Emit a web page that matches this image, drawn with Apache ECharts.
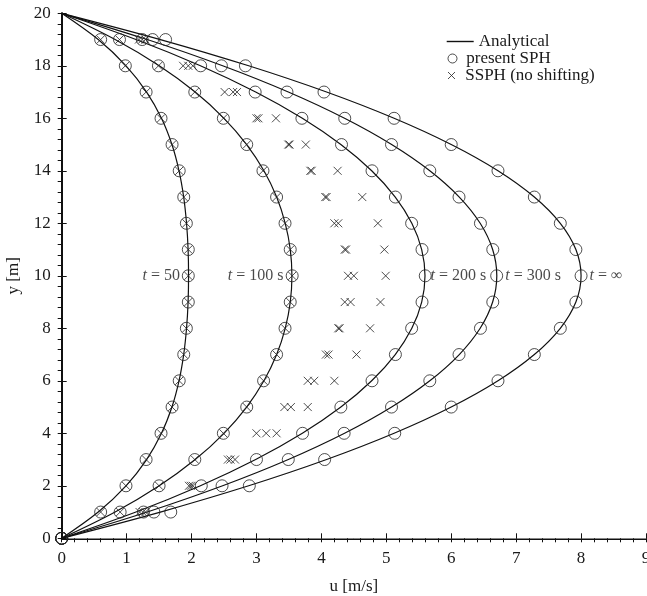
<!DOCTYPE html>
<html><head><meta charset="utf-8">
<script src="https://cdn.jsdelivr.net/npm/echarts@6/dist/echarts.min.js"></script>
<style>html,body{margin:0;padding:0;background:#fff}#c{width:647px;height:596px}</style>
</head><body><div id="c"></div>
<script>
// ---- data ----
const xTickValues = [0,1,2,3,4,5,6,7,8,9];
const yTickValues = [0,2,4,6,8,10,12,14,16,18,20];
const lineY = [0,1,2,3,4,5,6,7,8,9,10,11,12,13,14,15,16,17,18,19,20];
const analytic50  = [0,0.563,0.991,1.308,1.537,1.698,1.807,1.879,1.923,1.947,1.954,1.947,1.923,1.879,1.807,1.698,1.537,1.308,0.991,0.563,0];
const analytic100 = [0,0.823,1.502,2.056,2.500,2.849,3.115,3.311,3.443,3.521,3.546,3.521,3.443,3.311,3.115,2.849,2.500,2.056,1.502,0.823,0];
const analytic200 = [0,1.144,2.137,2.988,3.707,4.300,4.775,5.138,5.393,5.545,5.596,5.545,5.393,5.138,4.775,4.300,3.707,2.988,2.137,1.144,0];
const analytic300 = [0,1.317,2.479,3.491,4.357,5.082,5.670,6.124,6.446,6.638,6.702,6.638,6.446,6.124,5.670,5.082,4.357,3.491,2.479,1.317,0];
const analyticInf = [0,1.52,2.88,4.08,5.12,6.00,6.72,7.28,7.68,7.92,8.00,7.92,7.68,7.28,6.72,6.00,5.12,4.08,2.88,1.52,0];

const sphY = [0,1,2,3,4,5,6,7,8,9,10,11,12,13,14,15,16,17,18,19];
const sph50  = [0,0.60,0.99,1.30,1.53,1.70,1.81,1.88,1.92,1.95,1.95,1.95,1.92,1.88,1.81,1.70,1.53,1.30,0.98,0.60];
const sph100 = [0,0.90,1.50,2.05,2.49,2.85,3.11,3.31,3.44,3.52,3.55,3.52,3.44,3.31,3.10,2.85,2.49,2.05,1.49,0.89];
const sph200 = [0,1.26,2.15,3.00,3.71,4.30,4.78,5.14,5.39,5.55,5.60,5.55,5.39,5.14,4.78,4.31,3.70,2.98,2.14,1.24];
const sph300 = [0,1.42,2.47,3.49,4.35,5.08,5.67,6.12,6.45,6.64,6.70,6.64,6.45,6.12,5.67,5.08,4.36,3.47,2.46,1.40];
const sphInf = [0,1.68,2.89,4.05,5.13,6.00,6.72,7.28,7.68,7.92,8.00,7.92,7.68,7.28,6.72,6.00,5.12,4.04,2.83,1.60];

const ssphY = [1,2,3,4,5,6,7,8,9,10,11,12,13,14,15,16,17,18,19];
const ssph50  = [0.60,0.99,1.30,1.53,1.70,1.81,1.88,1.92,1.95,1.95,1.95,1.92,1.88,1.81,1.70,1.53,1.30,0.98,0.60];
const ssph100 = [0.90,1.50,2.05,2.49,2.85,3.11,3.31,3.44,3.52,3.55,3.52,3.44,3.31,3.10,2.85,2.49,2.05,1.49,0.89];
const ssphA = [1.20,1.96,2.56,3.00,3.43,3.79,4.07,4.26,4.36,4.41,4.36,4.20,4.06,3.83,3.49,3.00,2.51,1.87,1.19];
const ssphB = [1.25,1.99,2.60,3.15,3.53,3.89,4.11,4.28,4.45,4.50,4.38,4.26,4.08,3.85,3.51,3.03,2.64,1.95,1.24];
const ssphC = [1.29,2.02,2.67,3.31,3.79,4.20,4.54,4.75,4.91,4.99,4.97,4.87,4.63,4.25,3.76,3.30,2.70,2.02,1.29];

const curveLabels = ['t = 50','t = 100 s','t = 200 s','t = 300 s','t = \u221e'];
const legendNames = ['Analytical','present SPH','SSPH (no shifting)'];

// ---- build ----
const FONT = 'Liberation Serif';
const TXT = '#1a1a1a';
const pairs = (us, ys) => us.map((u, i) => [u, ys[i]]);
const crossPath = 'path://M0,0L10,10M10,0L0,10';

const analytic = [analytic50, analytic100, analytic200, analytic300, analyticInf];
const sph = [sph50, sph100, sph200, sph300, sphInf];
const ssph = [ssph50, ssph100, ssphA, ssphB, ssphC];

const series = [];
analytic.forEach(a => series.push({
  type: 'line', name: legendNames[0], data: pairs(a, lineY), smooth: 0.35,
  symbol: 'none', showSymbol: false, color: '#111',
  lineStyle: { color: '#111', width: 1.2 }, z: 2, silent: true
}));
sph.forEach(s => series.push({
  type: 'scatter', name: legendNames[1], data: pairs(s, sphY), symbol: 'circle', symbolSize: 12,
  itemStyle: { color: 'transparent', borderColor: '#222', borderWidth: 1 }, z: 3, silent: true
}));
ssph.forEach(s => series.push({
  type: 'scatter', name: legendNames[2], data: pairs(s, ssphY), symbol: crossPath, symbolSize: 8,
  itemStyle: { color: 'transparent', borderColor: '#222', borderWidth: 1 }, z: 4, silent: true
}));
series.push({
  type: 'scatter', name: 'curveLabels', silent: true, symbolSize: 1,
  itemStyle: { color: 'transparent' }, z: 5,
  data: analytic.map((a, i) => ({
    value: [a[10], lineY[10]],
    label: { show: true, position: i < 2 ? 'left' : 'right', distance: i < 2 ? 8 : (i === 2 ? 5 : 8),
      formatter: () => curveLabels[i].replace(/^t/, '{i|t}') }
  })),
  label: { fontFamily: FONT, fontSize: 16, color: TXT,
    rich: { i: { fontFamily: FONT, fontSize: 16, fontStyle: 'italic', color: TXT } } }
});

const baseX = { type: 'value', min: 0, max: 9, interval: 1, splitLine: { show: false } };
const baseY = { type: 'value', min: 0, max: 20, interval: 2, splitLine: { show: false } };
const gridRect = { left: 61.7, right: 1, top: 13.3, bottom: 57.7, containLabel: false, outerBoundsMode: 'none' };

const legendCommon = { orient: 'vertical', padding: 0, selectedMode: false,
  textStyle: { fontFamily: FONT, fontSize: 17, color: TXT } };

const option = {
  animation: false,
  backgroundColor: '#fff',
  grid: [Object.assign({}, gridRect), Object.assign({}, gridRect)],
  xAxis: [
    Object.assign({}, baseX, {
      gridIndex: 0, position: 'bottom',
      axisLine: { show: true, lineStyle: { color: '#111', width: 2 } },
      axisTick: { show: true, inside: true, length: 5, lineStyle: { color: '#111', width: 1 } },
      axisLabel: { fontFamily: FONT, fontSize: 17, color: TXT, margin: 12,
        formatter: v => xTickValues.includes(v) ? String(v) : '' },
      name: 'u [m/s]', nameLocation: 'middle', nameGap: 40,
      nameTextStyle: { fontFamily: FONT, fontSize: 17, color: TXT }
    }),
    Object.assign({}, baseX, {
      gridIndex: 0, position: 'top', axisLine: { show: true, lineStyle: { color: '#888', width: 1 } },
      axisTick: { show: false }, axisLabel: { show: false }
    }),
    Object.assign({}, baseX, {
      gridIndex: 1, position: 'bottom', axisLine: { show: false }, axisLabel: { show: false },
      axisTick: { show: true, inside: false, length: 4, lineStyle: { color: '#111', width: 1 } },
      minorTick: { show: true, splitNumber: 5, length: 4, lineStyle: { color: '#111', width: 1 } }
    })
  ],
  yAxis: [
    Object.assign({}, baseY, {
      gridIndex: 0, position: 'left',
      axisLine: { show: true, lineStyle: { color: '#111', width: 2 } },
      axisTick: { show: true, inside: true, length: 5, lineStyle: { color: '#111', width: 1 } },
      axisLabel: { fontFamily: FONT, fontSize: 17, color: TXT, margin: 11,
        formatter: v => yTickValues.includes(v) ? String(v) : '' },
      name: 'y [m]', nameLocation: 'middle', nameGap: 40,
      nameTextStyle: { fontFamily: FONT, fontSize: 17, color: TXT }
    }),
    Object.assign({}, baseY, {
      gridIndex: 0, position: 'right', axisLine: { show: true, lineStyle: { color: '#111', width: 1.5 } },
      axisTick: { show: false }, axisLabel: { show: false }
    }),
    Object.assign({}, baseY, {
      gridIndex: 1, position: 'left', axisLine: { show: false }, axisLabel: { show: false },
      axisTick: { show: true, inside: false, length: 4, lineStyle: { color: '#111', width: 1 } },
      minorTick: { show: true, splitNumber: 5, length: 4, lineStyle: { color: '#111', width: 1 } }
    })
  ],
  legend: [
    Object.assign({}, legendCommon, { data: [legendNames[0]], left: 446.7, top: 33,
      icon: 'rect', itemWidth: 27, itemHeight: 1.4, itemStyle: { color: '#111' } }),
    Object.assign({}, legendCommon, { data: [legendNames[1]], left: 447.5, top: 50,
      icon: 'circle', itemWidth: 17.5, itemHeight: 9,
      itemStyle: { color: 'transparent', borderColor: '#222', borderWidth: 1 } }),
    Object.assign({}, legendCommon, { data: [legendNames[2]], left: 447.5, top: 67,
      icon: crossPath, itemWidth: 17.5, itemHeight: 7,
      itemStyle: { color: 'transparent', borderColor: '#222', borderWidth: 1 } })
  ],
  series: series
};

const chart = echarts.init(document.getElementById('c'), null, { renderer: 'canvas' });
chart.setOption(option);
</script>
</body></html>
